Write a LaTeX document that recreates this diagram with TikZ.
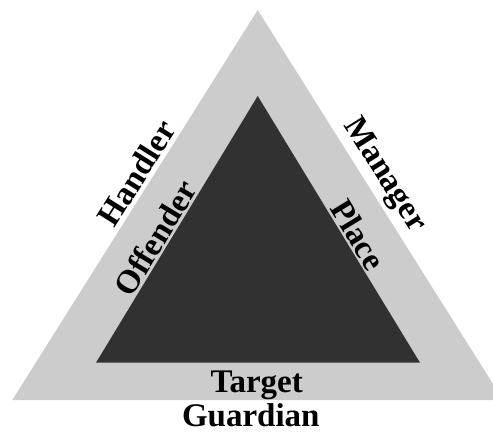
\documentclass[tikz,border=0pt]{standalone}
\usepackage{fontspec}
\setmainfont{Liberation Serif}
\usetikzlibrary{positioning}

\definecolor{bandgray}{RGB}{204,204,204}
\definecolor{coregray}{RGB}{49,49,49}

\begin{document}
\begin{tikzpicture}[
    x=1pt, y=-1pt,
    lbl/.style={font=\bfseries\fontsize{33}{33}\selectfont, text=black},
    outerlbl/.style={lbl, sloped, above, inner sep=4pt},
    innerlbl/.style={lbl, sloped, above, inner sep=2pt}
]
\useasboundingbox (0,0) rectangle (493,434);
% corners of the two triangles
\coordinate (otop) at (257.7,10);
\coordinate (oleft) at (12.3,400);
\coordinate (oright) at (503.1,400);
\coordinate (itop) at (257.7,96);
\coordinate (ileft) at (96,362.7);
\coordinate (iright) at (420,362.7);

\fill[bandgray] (oleft) -- (otop) -- (oright) -- cycle;
\fill[coregray] (ileft) -- (itop) -- (iright) -- cycle;

\path (oleft) -- (otop) node[outerlbl, pos=0.56] (Handler) {Handler};
\path (otop) -- (oright) node[outerlbl, pos=0.45] (Manager) {Manager};
\path (ileft) -- (itop) node[innerlbl, pos=0.44] (Offender) {Offender};
\path (itop) -- (iright) node[innerlbl, pos=0.547] (Place) {Place};
\node[lbl, anchor=base] (Target) at (256.7,392) {Target};
\node[lbl, anchor=base] (Guardian) at (250.8,426) {Guardian};
\end{tikzpicture}
\end{document}
